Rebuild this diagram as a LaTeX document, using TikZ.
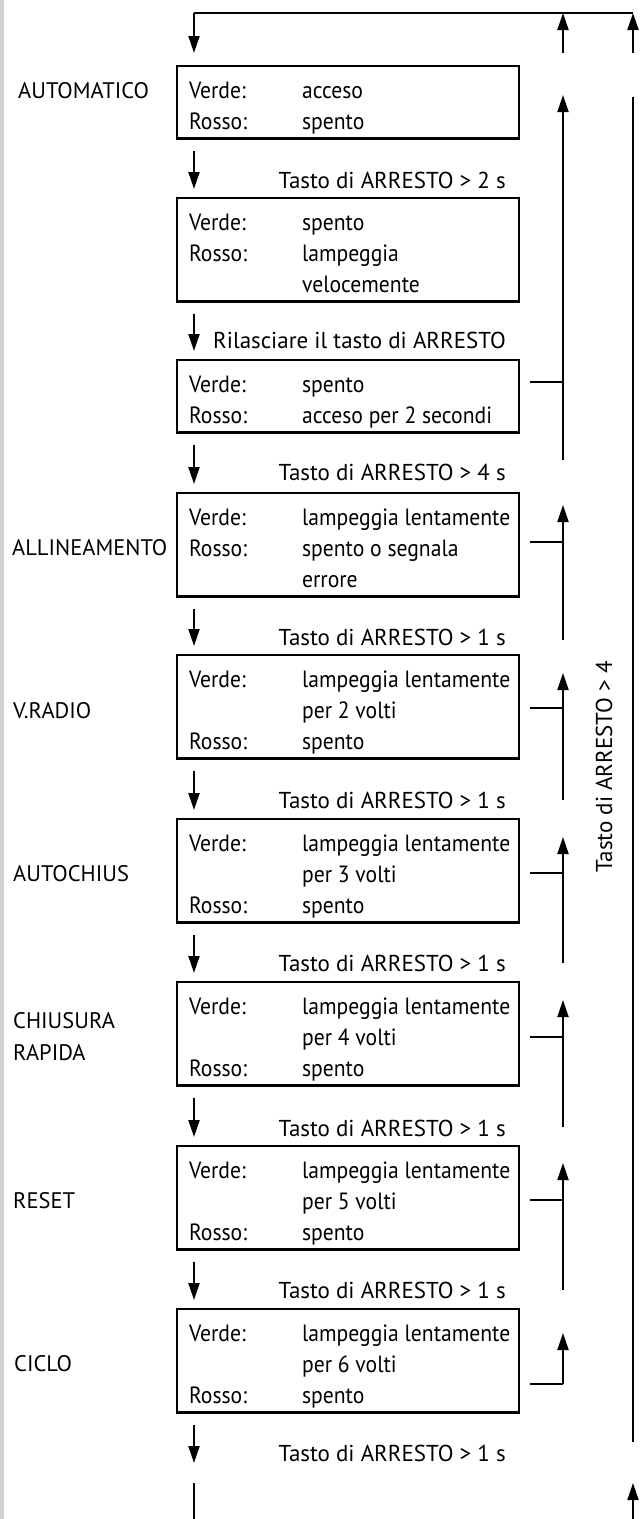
\documentclass[tikz,border=0pt]{standalone}
\usepackage{fontspec}
\setmainfont{PT Sans}
\newfontfamily\boxfont{PT Sans}[FakeStretch=0.92]
\usetikzlibrary{arrows.meta,calc}
\newcommand\boxrows[1]{\begin{tabular}{@{\hspace{12pt}}l@{}}#1\end{tabular}}
\newcommand\rw[2]{\makebox[113pt][l]{#1}\makebox[217pt][l]{#2}}
\newcommand\firstrow{\rule{0pt}{32pt}}
\newcommand\ff{\fontsize{22.5}{31}\selectfont}
\newcommand\boxff{\boxfont\fontsize{23.5}{31}\selectfont}
\begin{document}
\begin{tikzpicture}[x=1pt,y=-1pt,
  ln/.style={line width=2pt},
  arr/.style={line width=2pt,-{Triangle[length=17pt,width=11pt]}},
  statebox/.style={draw,line width=2.2pt,rectangle,inner sep=0pt,anchor=north west,minimum width=342pt,font=\boxff},
  cond/.style={inner sep=0pt,anchor=base east,font=\fontsize{23}{31}\selectfont},
  mode/.style={inner sep=0pt,anchor=base west,font=\ff,align=left},
]
\useasboundingbox (0,0) rectangle (640,1519);
\fill[gray!35] (0,0) rectangle (3.5,1519);

% boxes
\node[statebox] (b1) at (176,65) {\boxrows{\firstrow\rw{Verde:}{acceso}\\ \rw{Rosso:}{spento}}};
\node[statebox] (b2) at (176,197) {\boxrows{\firstrow\rw{Verde:}{spento}\\ \rw{Rosso:}{lampeggia}\\ \rw{}{velocemente}}};
\node[statebox] (b3) at (176,359) {\boxrows{\firstrow\rw{Verde:}{spento}\\ \rw{Rosso:}{acceso per 2 secondi}}};
\node[statebox] (b4) at (176,492) {\boxrows{\firstrow\rw{Verde:}{lampeggia lentamente}\\ \rw{Rosso:}{spento o segnala}\\ \rw{}{errore}}};
\node[statebox] (b5) at (176,654) {\boxrows{\firstrow\rw{Verde:}{lampeggia lentamente}\\ \rw{}{per 2 volti}\\ \rw{Rosso:}{spento}}};
\node[statebox] (b6) at (176,818) {\boxrows{\firstrow\rw{Verde:}{lampeggia lentamente}\\ \rw{}{per 3 volti}\\ \rw{Rosso:}{spento}}};
\node[statebox] (b7) at (176,981) {\boxrows{\firstrow\rw{Verde:}{lampeggia lentamente}\\ \rw{}{per 4 volti}\\ \rw{Rosso:}{spento}}};
\node[statebox] (b8) at (176,1145) {\boxrows{\firstrow\rw{Verde:}{lampeggia lentamente}\\ \rw{}{per 5 volti}\\ \rw{Rosso:}{spento}}};
\node[statebox] (b9) at (176,1308) {\boxrows{\firstrow\rw{Verde:}{lampeggia lentamente}\\ \rw{}{per 6 volti}\\ \rw{Rosso:}{spento}}};

% mode names
\node[mode] (m1) at (18,98) {AUTOMATICO};
\node[mode] (m4) at (12,555) {ALLINEAMENTO};
\node[mode] (m5) at (13,718) {V.RADIO};
\node[mode] (m6) at (13,881) {AUTOCHIUS};
\node[mode] (m7) at (13,1028) {CHIUSURA};
\node[mode] (m7b) at (13,1060) {RAPIDA};
\node[mode] (m8) at (13,1208) {RESET};
\node[mode] (m9) at (14,1371) {CICLO};

% conditions
\node[cond] (c1) at (506,188) {Tasto di ARRESTO > 2 s};
\node[cond] (c2) at (506,348) {Rilasciare il tasto di ARRESTO};
\node[cond] (c3) at (506,480) {Tasto di ARRESTO > 4 s};
\node[cond] (c4) at (506,645) {Tasto di ARRESTO > 1 s};
\node[cond] (c5) at (506,808) {Tasto di ARRESTO > 1 s};
\node[cond] (c6) at (506,971) {Tasto di ARRESTO > 1 s};
\node[cond] (c7) at (506,1136) {Tasto di ARRESTO > 1 s};
\node[cond] (c8) at (506,1298) {Tasto di ARRESTO > 1 s};
\node[cond] (c9) at (506,1461) {Tasto di ARRESTO > 1 s};
\node[inner sep=0pt,rotate=90,font=\fontsize{23}{31}\selectfont] (r) at (604,767) {Tasto di ARRESTO > 4};

% coordinates
\coordinate (tl) at (194,13);
\coordinate (tm) at (563,13);
\coordinate (tr) at (633,13);
\coordinate (um) at (563,53);
\coordinate (ur) at (633,53);
\coordinate (end) at (194,1463);
\coordinate (bl) at (194,1483);
\coordinate (blb) at (194,1519);
\coordinate (brb) at (633,1519);
\coordinate (br) at (633,1483);
\coordinate (rtop) at (633,97);
\coordinate (rbot) at (633,1442);

% top loop
\draw[ln] (tl) -- (tr);
\draw[arr,shorten >=12pt] (tl) -- (b1.north -| tl);
\draw[arr] (um) -- (tm);
\draw[arr] (ur) -- (tr);
\draw[ln] (rtop) -- (rbot);
\draw[arr] (brb) -- (br);
\draw[ln] (bl) -- (blb);

% down arrows
\draw[arr,shorten <=11pt,shorten >=8pt] (b1.south -| tl) -- (b2.north -| tl);
\draw[arr,shorten <=11pt,shorten >=8pt] (b2.south -| tl) -- (b3.north -| tl);
\draw[arr,shorten <=11pt,shorten >=8pt] (b3.south -| tl) -- (b4.north -| tl);
\draw[arr,shorten <=11pt,shorten >=8pt] (b4.south -| tl) -- (b5.north -| tl);
\draw[arr,shorten <=11pt,shorten >=8pt] (b5.south -| tl) -- (b6.north -| tl);
\draw[arr,shorten <=11pt,shorten >=8pt] (b6.south -| tl) -- (b7.north -| tl);
\draw[arr,shorten <=11pt,shorten >=8pt] (b7.south -| tl) -- (b8.north -| tl);
\draw[arr,shorten <=11pt,shorten >=8pt] (b8.south -| tl) -- (b9.north -| tl);
\draw[arr,shorten <=11pt] (b9.south -| tl) -- (end);

% return lines
\coordinate (k3) at (563,382);
\coordinate (k4) at (563,542);
\coordinate (k5) at (563,708);
\coordinate (k6) at (563,873);
\coordinate (k7) at (563,1037);
\coordinate (k8) at (563,1200);
\coordinate (k9) at (563,1384);
\draw[ln] ($(b3.east |- k3)+(10,0)$) -- (k3);
\draw[ln] ($(b4.east |- k4)+(10,0)$) -- (k4);
\draw[ln] ($(b5.east |- k5)+(10,0)$) -- (k5);
\draw[ln] ($(b6.east |- k6)+(10,0)$) -- (k6);
\draw[ln] ($(b7.east |- k7)+(10,0)$) -- (k7);
\draw[ln] ($(b8.east |- k8)+(10,0)$) -- (k8);
\draw[ln] ($(b9.east |- k9)+(10,0)$) -- (k9);
\draw[arr] (563,460) -- (563,95);
\draw[arr] (563,640) -- (563,505);
\draw[arr] (563,800) -- (563,673);
\draw[arr] (563,963) -- (563,837);
\draw[arr] (563,1127) -- (563,1000);
\draw[arr] (563,1290) -- (563,1163);
\draw[arr] (k9) -- (563,1333);
\end{tikzpicture}
\end{document}
